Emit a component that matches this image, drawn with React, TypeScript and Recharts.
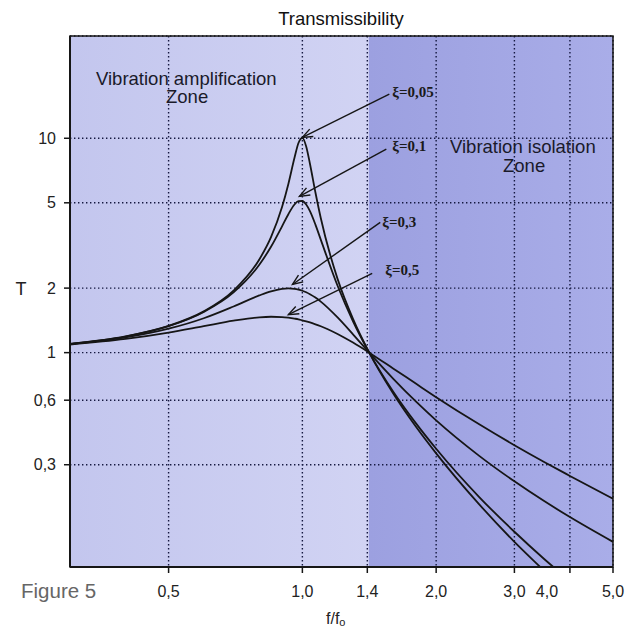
import React from 'react';
import { LineChart, Line, XAxis, YAxis, CartesianGrid, ReferenceArea, ReferenceLine } from 'recharts';

// frequency ratio f/f0
const ratio = [0.3, 0.4, 0.5, 0.6, 0.7, 0.8, 0.85, 0.9, 0.93, 0.96, 0.98, 1.0, 1.02, 1.04, 1.07, 1.1, 1.2, 1.3, 1.414, 1.6, 1.8, 2.0, 2.5, 3.0, 3.5, 4.0, 5.0];
// transmissibility T
const t005 = [1.099, 1.19, 1.332, 1.558, 1.947, 2.72, 3.458, 4.776, 6.123, 8.105, 9.506, 10.05, 9.162, 7.605, 5.583, 4.244, 2.208, 1.436, 1.0, 0.646, 0.452, 0.339, 0.196, 0.131, 0.096, 0.073, 0.047];
const t01 = [1.099, 1.189, 1.328, 1.547, 1.909, 2.571, 3.117, 3.882, 4.425, 4.91, 5.096, 5.099, 4.908, 4.571, 3.957, 3.367, 2.052, 1.401, 1.0, 0.659, 0.469, 0.356, 0.212, 0.146, 0.109, 0.086, 0.059];
const t03 = [1.095, 1.177, 1.293, 1.447, 1.642, 1.849, 1.933, 1.985, 1.995, 1.985, 1.968, 1.944, 1.912, 1.873, 1.806, 1.73, 1.46, 1.218, 1.0, 0.757, 0.592, 0.483, 0.33, 0.251, 0.203, 0.171, 0.131];
const t05 = [1.09, 1.158, 1.24, 1.329, 1.409, 1.462, 1.47, 1.465, 1.455, 1.441, 1.43, 1.414, 1.399, 1.383, 1.356, 1.328, 1.222, 1.114, 1.0, 0.844, 0.717, 0.62, 0.463, 0.37, 0.309, 0.266, 0.208];

const xTicks = [0.5, 1.0, 1.4, 2.0, 3.0, 4.0, 5.0];
const xTickLabels = ['0,5', '1,0', '1,4', '2,0', '3,0', '4,0', '5,0'];
const yTicks = [0.3, 0.6, 1, 2, 5, 8, 10];
const yTickLabels = ['0,3', '0,6', '1', '2', '5', '8', '10'];

const xDomain = [0.3, 5];
const yDomain = [0.1, 30];
const isolationStart = 1.41;

// annotation arrows: label, start (ratio, T), end (ratio, T)
const arrowLabels = ['ξ=0,05', 'ξ=0,1', 'ξ=0,3', 'ξ=0,5'];
const arrowStart = [
  { x: 1.569, y: 16.06 },
  { x: 1.545, y: 8.9 },
  { x: 1.497, y: 4.05 },
  { x: 1.436, y: 2.34 },
];
const arrowEnd = [
  { x: 1.0, y: 10.1 },
  { x: 0.985, y: 5.36 },
  { x: 0.95, y: 2.08 },
  { x: 0.93, y: 1.505 },
];
const labelOffset = [
  { dx: 3, dy: 3 },
  { dx: 6, dy: 2 },
  { dx: 2, dy: 5 },
  { dx: 13, dy: 2 },
];

const data = ratio.map((r, i) => ({ r, a: t005[i], b: t01[i], c: t03[i], d: t05[i] }));

const SANS = '"Liberation Sans", Arial, Helvetica, sans-serif';
const SERIF = '"Liberation Serif", "Times New Roman", serif';
const INK = '#161616';

const makeArrow = (label: string, dx: number, dy: number) => (p: any) => {
  const { x1, y1, x2, y2 } = p;
  const ang = Math.atan2(y2 - y1, x2 - x1);
  const L = 11;
  const W = 0.38;
  const ax = x2 - L * Math.cos(ang - W);
  const ay = y2 - L * Math.sin(ang - W);
  const bx = x2 - L * Math.cos(ang + W);
  const by = y2 - L * Math.sin(ang + W);
  return (
    <g>
      <line x1={x1} y1={y1} x2={x2} y2={y2} stroke={INK} strokeWidth={1.4} />
      <polyline points={`${ax},${ay} ${x2},${y2} ${bx},${by}`} fill="none" stroke={INK} strokeWidth={1.4} />
      <text x={x1 + dx} y={y1 + dy} fontFamily={SERIF} fontSize={15} fontWeight={700} fill="#1a1a1a">
        {label}
      </text>
    </g>
  );
};

const XTick = (props: any) => {
  const { x, y, payload } = props;
  const i = xTicks.indexOf(payload.value);
  const shift = payload.value === 4.0 ? -23 : 0;
  return (
    <text x={x + shift} y={y} dy="0.71em" textAnchor="middle" fontFamily={SANS} fontSize={16} fill="#222">
      {i >= 0 ? xTickLabels[i] : String(payload.value)}
    </text>
  );
};

const YTick = (props: any) => {
  const { x, y, payload } = props;
  const i = yTicks.indexOf(payload.value);
  return (
    <text x={x} y={y} dy="0.355em" textAnchor="end" fontFamily={SANS} fontSize={16} fill="#222">
      {i >= 0 ? yTickLabels[i] : String(payload.value)}
    </text>
  );
};

export default function App() {
  return (
    <div style={{ position: 'absolute', left: 0, top: 0, width: 630, height: 628, background: '#fff' }}>
      <LineChart width={630} height={628} data={data} margin={{ top: 36, right: 17, bottom: 31, left: 30 }}>
        <defs>
          <linearGradient id="ampZone" x1="0" y1="0" x2="1" y2="0">
            <stop offset="0%" stopColor="#c3c6ee" />
            <stop offset="100%" stopColor="#d1d3f3" />
          </linearGradient>
          <linearGradient id="isoZone" x1="0" y1="0" x2="1" y2="0">
            <stop offset="0%" stopColor="#9ca0e0" />
            <stop offset="100%" stopColor="#a9ade8" />
          </linearGradient>
        </defs>
        <ReferenceArea x1={xDomain[0]} x2={isolationStart} y1={yDomain[0]} y2={yDomain[1]} fill="url(#ampZone)" fillOpacity={1} stroke="none" zIndex={-200} />
        <ReferenceArea x1={isolationStart} x2={xDomain[1]} y1={yDomain[0]} y2={yDomain[1]} fill="url(#isoZone)" fillOpacity={1} stroke="none" zIndex={-200} />
        <CartesianGrid stroke="#151840" strokeWidth={1.4} strokeDasharray="1.4 2.6" />
        <XAxis
          dataKey="r"
          type="number"
          scale="log"
          domain={xDomain}
          allowDataOverflow
          ticks={xTicks}
          height={30}
          tickSize={6}
          tickMargin={13}
          tick={<XTick />}
          axisLine={{ stroke: INK, strokeWidth: 2 }}
          tickLine={{ stroke: INK, strokeWidth: 1.5 }}
        />
        <YAxis
          type="number"
          scale="log"
          domain={yDomain}
          allowDataOverflow
          ticks={yTicks}
          width={40}
          tickSize={6}
          tickMargin={8}
          tick={<YTick />}
          axisLine={{ stroke: INK, strokeWidth: 2 }}
          tickLine={{ stroke: INK, strokeWidth: 1.5 }}
        />
        <Line dataKey="a" type="monotone" stroke={INK} strokeWidth={1.8} dot={false} activeDot={false} isAnimationActive={false} />
        <Line dataKey="b" type="monotone" stroke={INK} strokeWidth={1.8} dot={false} activeDot={false} isAnimationActive={false} />
        <Line dataKey="c" type="monotone" stroke={INK} strokeWidth={1.8} dot={false} activeDot={false} isAnimationActive={false} />
        <Line dataKey="d" type="monotone" stroke={INK} strokeWidth={1.8} dot={false} activeDot={false} isAnimationActive={false} />
        <ReferenceArea x1={xDomain[0]} x2={xDomain[1]} y1={yDomain[0]} y2={yDomain[1]} fill="none" stroke={INK} strokeWidth={1.5} zIndex={450} />
        {arrowLabels.map((lab, i) => (
          <ReferenceLine
            key={lab}
            segment={[arrowStart[i], arrowEnd[i]]}
            stroke={INK}
            zIndex={460}
            shape={makeArrow(lab, labelOffset[i].dx, labelOffset[i].dy)}
          />
        ))}
        <text x={341} y={25} textAnchor="middle" fontFamily={SANS} fontSize={18.5} fill="#111">Transmissibility</text>
        <text x={96} y={85} fontFamily={SANS} fontSize={18.5} fill="#1a1a2a">Vibration amplification</text>
        <text x={166} y={103} fontFamily={SANS} fontSize={18.5} fill="#1a1a2a">Zone</text>
        <text x={450} y={153} fontFamily={SANS} fontSize={18.5} fill="#1a1a2a">Vibration isolation</text>
        <text x={503} y={172} fontFamily={SANS} fontSize={18.5} fill="#1a1a2a">Zone</text>
        <text x={21} y={295} textAnchor="middle" fontFamily={SANS} fontSize={18} fill="#222">T</text>
        <text x={21} y={598} fontFamily={SANS} fontSize={20.5} fill="#666">Figure 5</text>
        <text x={326} y={624} fontFamily={SANS} fontSize={16} fill="#222">
          f/f<tspan fontSize={11} dy={2}>o</tspan>
        </text>
      </LineChart>
    </div>
  );
}
